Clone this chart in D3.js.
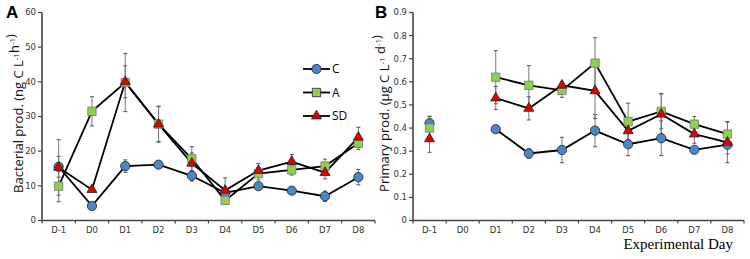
<!DOCTYPE html>
<html>
<head>
<meta charset="utf-8">
<script src="https://d3js.org/d3.v7.min.js"></script>
<style>
  body { margin: 0; background: #fff; }
  svg { display: block; }
  .tick-label { font-family: "DejaVu Sans", sans-serif; font-size: 8.5px; fill: #333; }
  .ylab { font-family: "Open Sans", "Liberation Sans", sans-serif; font-size: 13px; fill: #111; }
</style>
</head>
<body>
<div class="content"></div>
<script>
var width = 750, height = 259;

var days = ["D-1", "D0", "D1", "D2", "D3", "D4", "D5", "D6", "D7", "D8"];
var seriesNames = ["C", "A", "SD"];

// panel A: bacterial production
var bactC = [15.5, 4.2, 15.7, 16.1, 12.9, 8.0, 9.9, 8.6, 7.0, 12.5];
var bactA = [9.9, 31.5, 39.8, 27.8, 17.8, 5.8, 13.5, 14.6, 15.7, 22.3];
var bactSD = [15.3, 8.9, 40.0, 27.8, 16.5, 8.7, 14.4, 17.0, 13.8, 24.0];
var bactErrC = [3.0, 0.5, 1.8, 0.6, 1.5, 1.0, 0.8, 0.8, 1.5, 2.2];
var bactErrA = [4.5, 4.2, 8.4, 5.0, 3.5, 1.0, 1.8, 1.5, 2.0, 1.8];
var bactErrSD = [8.0, 0.5, 4.6, 5.2, 3.0, 3.6, 2.0, 2.0, 1.8, 2.9];

// panel B: primary production (no sample on D0)
var primC = [0.421, null, 0.395, 0.29, 0.305, 0.389, 0.33, 0.356, 0.306, 0.328];
var primA = [0.40, null, 0.62, 0.585, 0.563, 0.681, 0.428, 0.472, 0.417, 0.374];
var primSD = [0.353, null, 0.53, 0.485, 0.585, 0.561, 0.388, 0.46, 0.374, 0.338];
var primErrC = [0.03, null, 0.01, 0.02, 0.055, 0.07, 0.05, 0.075, 0.01, 0.04];
var primErrA = [0.05, null, 0.115, 0.085, 0.03, 0.11, 0.08, 0.075, 0.033, 0.054];
var primErrSD = [0.058, null, 0.05, 0.05, 0.015, 0.12, 0.05, 0.09, 0.04, 0.088];

var bactTicks = [0, 10, 20, 30, 40, 50, 60];
var primTicks = [0, 0.1, 0.2, 0.3, 0.4, 0.5, 0.6, 0.7, 0.8, 0.9];

var styles = {
  C: { shape: d3.symbolCircle, size: 68, fill: "#4a86c8" },
  A: { shape: d3.symbolSquare, size: 70, fill: "#8fd14f" },
  SD: { shape: d3.symbolTriangle, size: 44, fill: "#e00000" }
};

var svg = d3.select(".content").append("svg")
  .attr("width", width)
  .attr("height", height);

function drawPanel(opts) {
  var x = d3.scaleBand().domain(days).range([opts.x0, opts.x1]).padding(0);
  var y = d3.scaleLinear().domain([0, opts.ymax]).range([220.5, 12.5]);
  var g = svg.append("g");

  // y axis
  g.append("line")
    .attr("x1", opts.x0).attr("x2", opts.x0)
    .attr("y1", y(opts.ymax)).attr("y2", y(0))
    .attr("stroke", "#444").attr("stroke-width", 1.6);
  opts.ticks.forEach(function (t) {
    g.append("line")
      .attr("x1", opts.x0 - 4).attr("x2", opts.x0)
      .attr("y1", y(t)).attr("y2", y(t))
      .attr("stroke", "#444").attr("stroke-width", 1.2);
    g.append("text").attr("class", "tick-label")
      .attr("x", opts.x0 - 6).attr("y", y(t)).attr("dy", "0.35em")
      .attr("text-anchor", "end")
      .text(opts.fmt(t));
  });

  // x axis
  g.append("line")
    .attr("x1", opts.x0).attr("x2", opts.x1)
    .attr("y1", y(0)).attr("y2", y(0))
    .attr("stroke", "#444").attr("stroke-width", 1.6);
  days.concat(["end"]).forEach(function (d) {
    var xx = d === "end" ? opts.x1 : x(d);
    g.append("line")
      .attr("x1", xx).attr("x2", xx)
      .attr("y1", y(0)).attr("y2", y(0) + 3)
      .attr("stroke", "#444").attr("stroke-width", 1.2);
  });
  days.forEach(function (d) {
    g.append("text").attr("class", "tick-label")
      .attr("x", x(d) + x.bandwidth() / 2).attr("y", y(0) + 12)
      .attr("text-anchor", "middle")
      .text(d);
  });

  // y label
  var lab = g.append("text").attr("class", "ylab")
    .attr("transform", "translate(" + opts.labX + "," + (y(opts.ymax / 2) - 3) + ") rotate(-90)")
    .attr("text-anchor", "middle");
  opts.label.forEach(function (p) {
    if (p.sup) {
      lab.append("tspan").attr("dy", -4).style("font-size", "8px").text(p.sup);
      lab.append("tspan").attr("dy", 4).text("");
    } else {
      lab.append("tspan").text(p.t);
    }
  });

  // panel letter
  g.append("text")
    .attr("x", opts.letterX).attr("y", 18)
    .style("font-family", "Liberation Sans, Arial, sans-serif")
    .style("font-weight", "bold").style("font-size", "17px")
    .text(opts.letter);

  var cx = function (i) { return x(days[i]) + x.bandwidth() / 2; };

  // error bars
  opts.series.forEach(function (s) {
    s.values.forEach(function (v, i) {
      if (v == null) return;
      var e = s.err[i];
      var top = y(v + e), bot = y(v - e);
      g.append("line").attr("x1", cx(i)).attr("x2", cx(i))
        .attr("y1", top).attr("y2", bot)
        .attr("stroke", "#777").attr("stroke-width", 1);
      [top, bot].forEach(function (yy) {
        g.append("line").attr("x1", cx(i) - 2).attr("x2", cx(i) + 2)
          .attr("y1", yy).attr("y2", yy)
          .attr("stroke", "#555").attr("stroke-width", 1);
      });
    });
  });

  // lines
  var line = d3.line()
    .defined(function (d) { return d.v != null && !(opts.skipFirst && d.i === 0); })
    .x(function (d) { return cx(d.i); })
    .y(function (d) { return y(d.v); });
  opts.series.forEach(function (s) {
    g.append("path")
      .datum(s.values.map(function (v, i) { return { v: v, i: i }; }))
      .attr("fill", "none").attr("stroke", "#000").attr("stroke-width", 1.8)
      .attr("d", line);
  });

  // markers
  opts.series.forEach(function (s) {
    var st = styles[s.name];
    s.values.forEach(function (v, i) {
      if (v == null) return;
      g.append("path")
        .attr("d", d3.symbol().type(st.shape).size(st.size))
        .attr("transform", "translate(" + cx(i) + "," + y(v) + ")")
        .attr("fill", st.fill).attr("stroke", st.shape === d3.symbolSquare ? "#777" : "#222")
        .attr("stroke-width", 0.8);
    });
  });
}

drawPanel({
  x0: 42, x1: 375, ymax: 60, ticks: bactTicks, fmt: d3.format("d"),
  labX: 23, letter: "A", letterX: 6,
  label: [{ t: "Bacterial prod. (ng C L" }, { sup: "-1" }, { t: "h" }, { sup: "-1" }, { t: ")" }],
  series: [
    { name: "C", values: bactC, err: bactErrC },
    { name: "A", values: bactA, err: bactErrA },
    { name: "SD", values: bactSD, err: bactErrSD }
  ]
});

drawPanel({
  x0: 413, x1: 744, ymax: 0.9, ticks: primTicks, fmt: function (t) { return t === 0 ? "0" : d3.format(".1f")(t); },
  labX: 389, letter: "B", letterX: 375, skipFirst: true,
  label: [{ t: "Primary prod. (\u00b5g C L" }, { sup: "-1" }, { t: " d" }, { sup: "-1" }, { t: ")" }],
  series: [
    { name: "C", values: primC, err: primErrC },
    { name: "A", values: primA, err: primErrA },
    { name: "SD", values: primSD, err: primErrSD }
  ]
});

// legend
var legend = svg.append("g").attr("class", "legend");
seriesNames.forEach(function (n, i) {
  var ly = 69 + i * 23.5;
  legend.append("line").attr("x1", 303).attr("x2", 330)
    .attr("y1", ly).attr("y2", ly)
    .attr("stroke", "#000").attr("stroke-width", 1.8);
  legend.append("path")
    .attr("d", d3.symbol().type(styles[n].shape).size(styles[n].size))
    .attr("transform", "translate(316.5," + ly + ")")
    .attr("fill", styles[n].fill).attr("stroke", "#222").attr("stroke-width", 0.8);
  legend.append("text")
    .attr("x", 332).attr("y", ly).attr("dy", "0.35em")
    .style("font-family", "Open Sans, Liberation Sans, sans-serif")
    .style("font-size", "12px")
    .text(n);
});

svg.append("text")
  .attr("x", 733).attr("y", 249).attr("text-anchor", "end")
  .style("font-family", "Liberation Serif, Times New Roman, serif")
  .style("font-size", "15px")
  .text("Experimental Day");
</script>
</body>
</html>
